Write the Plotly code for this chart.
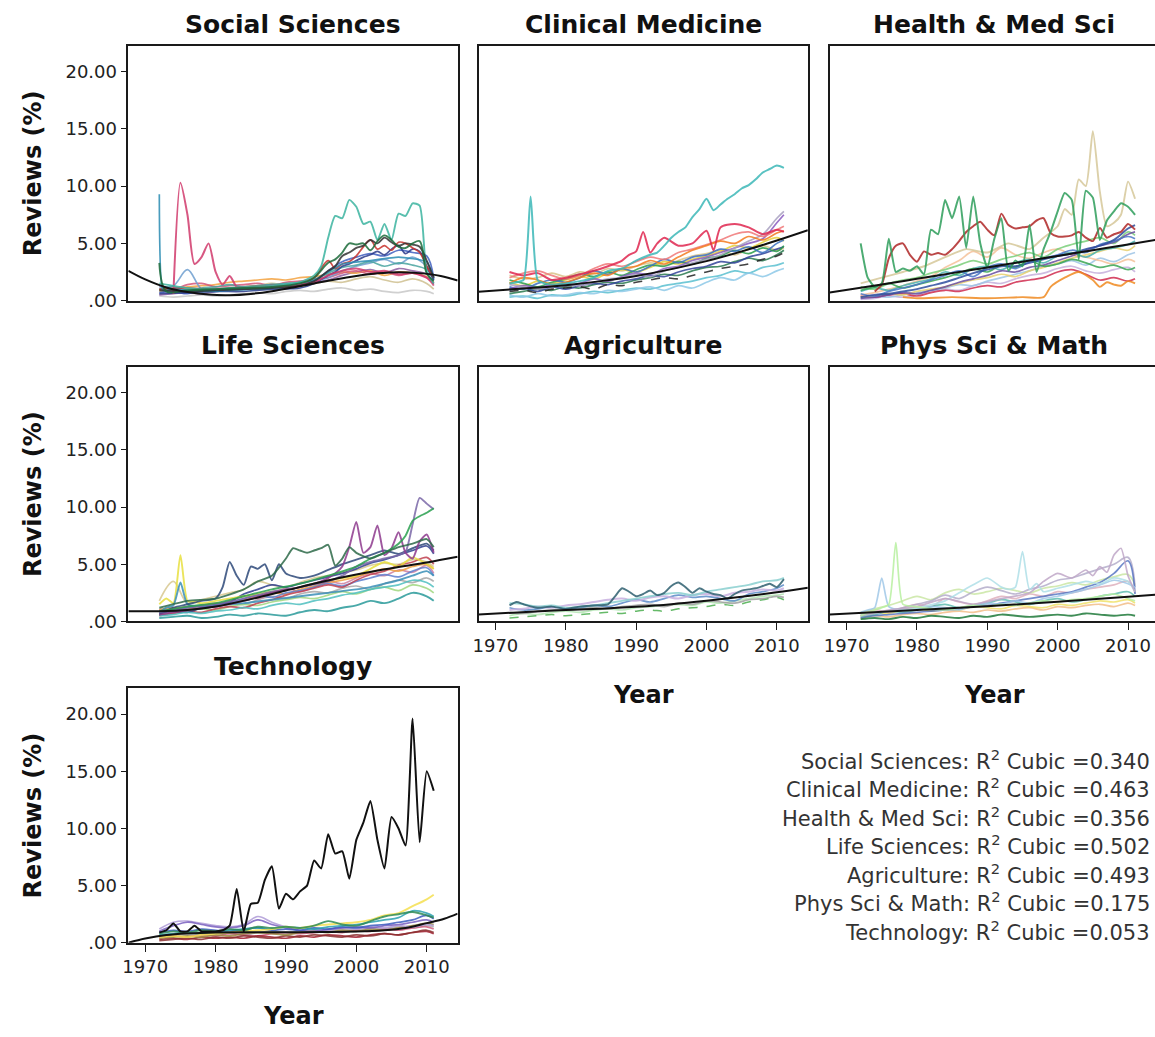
import plotly.graph_objects as go

# ---------------------------------------------------------------- data
YR = [1972, 1974, 1976, 1978, 1980, 1982, 1984, 1986, 1988, 1990, 1992,
      1994, 1996, 1998, 2000, 2002, 2004, 2006, 2008, 2010, 2011]
YEARLY = list(range(1972, 2012))

X_TICKS = [1970, 1980, 1990, 2000, 2010]
X_TICKTEXT = ["1970", "1980", "1990", "2000", "2010"]
Y_TICKS = [0, 5, 10, 15, 20]
Y_TICKTEXT = [".00", "5.00", "10.00", "15.00", "20.00"]

PANEL_NAMES = ["Social Sciences", "Clinical Medicine", "Health & Med Sci",
               "Life Sciences", "Agriculture", "Phys Sci & Math", "Technology"]
R2_CUBIC = ["0.340", "0.463", "0.356", "0.502", "0.493", "0.175", "0.053"]

# --- Social Sciences
ss_bg1 = [0.9, 1.0, 1.2, 1.3, 1.4, 1.6, 1.7, 1.8, 1.9, 1.8, 2.0, 2.1, 2.3, 2.5, 2.4, 2.6, 2.2, 2.5, 2.4, 2.1, 1.6]
ss_bg2 = [1.2, 1.3, 2.7, 1.0, 0.8, 1.0, 1.1, 1.0, 1.2, 1.4, 1.5, 1.7, 2.0, 2.6, 3.0, 3.3, 3.6, 3.2, 3.8, 3.0, 2.2]
ss_bg3 = [0.5, 0.6, 0.7, 0.6, 0.8, 0.9, 1.0, 1.1, 1.2, 1.3, 1.4, 1.6, 1.8, 2.2, 2.5, 2.7, 2.4, 2.8, 2.6, 2.3, 1.4]
ss_bg4 = [0.4, 0.3, 0.4, 0.5, 0.4, 0.5, 0.6, 0.7, 0.6, 0.8, 0.9, 0.8, 1.0, 1.1, 0.9, 1.0, 0.8, 0.7, 0.9, 0.8, 0.6]
ss_bg5 = [1.3, 1.0, 1.4, 1.5, 1.2, 1.3, 1.4, 1.5, 1.3, 1.6, 1.7, 1.9, 2.0, 2.4, 2.6, 2.3, 2.5, 2.2, 2.4, 2.0, 1.3]
ss_bg6 = [0.8, 0.9, 0.7, 0.8, 1.0, 0.9, 1.2, 1.3, 1.5, 1.3, 1.4, 1.5, 1.7, 1.6, 1.9, 2.1, 1.8, 1.6, 1.9, 1.5, 1.0]
ss_bg7 = [1.0, 1.2, 0.9, 1.1, 1.2, 1.4, 1.2, 1.3, 1.4, 1.5, 1.6, 1.8, 2.4, 2.9, 3.1, 3.4, 3.0, 3.3, 3.1, 2.7, 1.8]
ss_bg8 = [0.7, 0.8, 0.6, 0.9, 0.8, 1.0, 1.1, 1.2, 1.4, 1.3, 1.5, 1.7, 2.6, 3.4, 3.8, 4.1, 3.9, 4.4, 4.2, 3.9, 1.9]
ss_steel_years = [1972, 1972.5, 1974, 1978, 1982, 1986, 1990, 1994, 1998, 2002, 2006, 2010, 2011]
ss_steel = [9.3, 0.9, 1.0, 0.8, 0.9, 1.0, 1.2, 1.8, 3.2, 3.5, 3.8, 3.4, 2.0]
ss_late_years = [1972, 1976, 1980, 1984, 1988, 1992, 1994, 1996, 1997, 1998, 1999, 2000,
                 2001, 2002, 2003, 2004, 2005, 2006, 2007, 2008, 2009, 2010, 2011]
ss_black = [0.9, 0.8, 0.9, 1.0, 1.1, 1.3, 1.7, 2.6, 3.0, 3.9, 4.2, 4.6, 4.8, 5.3, 5.0, 5.5, 5.1, 4.8, 5.0, 4.9, 4.7, 3.5, 2.0]
ss_red = [1.0, 1.1, 1.0, 1.2, 1.3, 1.4, 2.0, 3.5, 2.8, 3.2, 3.4, 3.9, 4.7, 5.3, 4.5, 4.8, 4.4, 5.1, 5.0, 4.6, 4.2, 3.0, 2.0]
ss_navy = [0.6, 0.7, 0.8, 0.8, 1.0, 1.1, 1.5, 2.2, 2.5, 3.0, 3.2, 3.5, 3.8, 4.0, 4.3, 4.0, 4.5, 4.8, 4.1, 4.5, 4.3, 3.0, 1.8]
ss_dkgreen_years = [1972, 1973, 1976, 1980, 1984, 1988, 1992, 1994, 1996, 1997, 1998, 1999,
                    2000, 2001, 2002, 2003, 2004, 2005, 2006, 2007, 2008, 2009, 2010, 2011]
ss_dkgreen = [3.3, 0.8, 0.9, 1.0, 1.1, 1.2, 1.5, 2.0, 3.3, 3.6, 4.2, 5.0, 4.9, 5.0, 4.4, 5.2, 5.7, 5.3, 4.7, 4.6, 5.0, 5.2, 2.4, 1.7]
ss_crimson_years = [1974, 1975, 1976, 1977, 1978, 1979, 1980, 1981, 1982, 1983, 1984, 1986, 1988,
                    1990, 1992, 1994, 1996, 1998, 2000, 2002, 2004, 2006, 2008, 2010, 2011]
ss_crimson = [0.6, 10.3, 7.5, 3.2, 3.8, 5.0, 2.5, 1.4, 2.15, 1.2, 1.2, 1.1, 1.3, 1.2, 1.4, 1.6, 2.2, 2.6, 2.8, 2.5, 2.6, 2.3, 2.4, 2.0, 1.5]
ss_seagreen_years = [1972, 1976, 1980, 1984, 1988, 1992, 1994, 1995, 1996, 1997, 1998, 1999,
                     2000, 2001, 2002, 2003, 2004, 2005, 2006, 2007, 2008, 2009, 2010, 2011]
ss_seagreen = [1.5, 1.1, 1.0, 1.2, 1.3, 1.6, 2.2, 3.0, 5.5, 7.4, 7.2, 8.8, 8.2, 6.7, 6.9, 5.3, 6.7, 5.3, 7.6, 7.4, 8.5, 8.3, 2.5, 1.5]
ss_fit_years = [1967.6, 1970, 1973, 1976, 1979, 1982, 1985, 1988, 1991, 1994, 1997, 2000, 2003, 2006, 2009, 2012, 2014.4]
ss_fit = [2.6, 1.85, 1.15, 0.75, 0.52, 0.47, 0.58, 0.82, 1.15, 1.5, 1.85, 2.15, 2.38, 2.48, 2.4, 2.15, 1.75]

# --- Clinical Medicine
cm_orange = [1.5, 2.0, 1.8, 1.4, 1.6, 2.0, 2.4, 2.2, 2.8, 3.0, 3.5, 3.2, 3.8, 4.4, 4.8, 5.2, 5.0, 5.6, 5.3, 5.9, 6.1]
cm_blue = [1.2, 1.0, 1.5, 1.8, 1.6, 2.0, 2.6, 2.3, 2.8, 2.5, 3.0, 3.6, 3.3, 3.8, 4.0, 4.5, 4.3, 4.7, 4.2, 5.0, 5.3]
cm_green = [1.8, 1.5, 1.2, 1.6, 1.9, 2.3, 2.1, 2.5, 2.2, 2.7, 3.1, 3.0, 3.4, 3.2, 3.7, 3.9, 4.4, 4.1, 4.6, 4.3, 4.8]
cm_purple = [1.0, 1.3, 1.1, 1.4, 1.3, 1.5, 1.9, 1.7, 2.1, 2.4, 2.3, 2.8, 3.0, 3.5, 3.8, 4.2, 4.6, 5.0, 5.4, 6.8, 7.5]
cm_lightblue = [0.5, 0.3, 0.6, 0.4, 0.5, 0.7, 0.6, 0.9, 0.8, 1.0, 1.2, 0.9, 1.3, 1.1, 1.6, 2.0, 1.8, 2.4, 2.1, 2.6, 2.8]
cm_black = [0.8, 0.9, 0.7, 1.0, 1.1, 1.2, 1.0, 1.4, 1.3, 1.6, 1.8, 2.0, 1.9, 2.2, 2.5, 2.8, 3.0, 3.2, 3.6, 3.9, 4.2]
cm_khaki = [2.2, 1.9, 2.0, 2.4, 2.1, 2.5, 2.3, 2.8, 2.6, 3.0, 3.3, 3.1, 3.5, 3.9, 4.1, 4.4, 4.0, 4.5, 4.8, 4.4, 4.6]
cm_teal2 = [0.3, 0.4, 0.2, 0.5, 0.4, 0.6, 0.8, 0.7, 0.9, 1.1, 1.0, 1.3, 1.5, 1.7, 2.0, 2.2, 2.6, 2.4, 2.9, 3.1, 3.3]
cm_pink = [2.0, 2.4, 2.6, 2.2, 1.9, 2.2, 2.8, 3.2, 3.0, 3.4, 3.8, 3.6, 4.2, 4.5, 4.9, 5.3, 5.8, 6.0, 5.6, 6.2, 6.5]
cm_grey = [1.4, 1.2, 1.0, 1.2, 1.5, 1.3, 1.6, 1.9, 2.0, 2.3, 2.1, 2.6, 2.9, 3.3, 3.6, 4.0, 4.6, 5.2, 5.8, 7.2, 7.8]
cm_navy = [0.9, 1.1, 0.8, 1.2, 1.0, 1.3, 1.5, 1.4, 1.7, 1.9, 2.2, 2.1, 2.5, 2.8, 3.0, 3.4, 3.3, 3.8, 4.1, 4.5, 4.7]
cm_yellow = [1.6, 1.3, 1.7, 1.5, 1.8, 2.1, 1.9, 2.4, 2.7, 2.5, 2.9, 3.4, 3.2, 3.6, 3.9, 4.3, 4.8, 4.6, 5.1, 5.5, 5.2]
cm_dkgreen = [0.6, 0.8, 1.0, 0.9, 1.2, 1.1, 1.4, 1.6, 1.5, 1.8, 2.0, 2.3, 2.2, 2.6, 2.9, 3.0, 3.4, 3.7, 3.5, 4.0, 4.4]
cm_red_years = [1972, 1974, 1976, 1978, 1980, 1982, 1984, 1986, 1988, 1989, 1990, 1991, 1992,
                1993, 1994, 1996, 1998, 2000, 2001, 2002, 2004, 2006, 2008, 2010, 2011]
cm_red = [2.5, 2.2, 2.4, 1.8, 2.0, 2.3, 2.6, 3.0, 3.5, 4.0, 4.3, 6.0, 4.2, 5.0, 5.5, 4.8, 5.0, 6.1, 4.4, 6.4, 6.7, 6.4, 5.8, 6.2, 6.0]
cm_teal_years = [1972, 1973, 1974, 1975, 1976, 1977, 1978, 1980, 1982, 1984, 1986, 1988, 1990,
                 1992, 1993, 1994, 1995, 1996, 1997, 1998, 1999, 2000, 2001, 2002, 2003, 2004,
                 2005, 2006, 2007, 2008, 2009, 2010, 2011]
cm_teal = [1.5, 1.6, 1.8, 9.1, 1.8, 1.5, 1.4, 1.5, 1.7, 2.0, 2.6, 2.8, 3.5, 4.0, 4.2, 4.8, 5.5, 6.0,
           6.4, 7.3, 8.0, 8.9, 7.9, 8.4, 8.9, 9.3, 9.8, 10.1, 10.6, 11.2, 11.5, 11.8, 11.6]
cm_fit_years = [1967.6, 1975, 1980, 1985, 1990, 1995, 2000, 2005, 2010, 2014.4]
cm_fit = [0.78, 1.1, 1.35, 1.7, 2.15, 2.75, 3.45, 4.3, 5.25, 6.15]

# --- Health & Med Sci
hm_navy = [0.3, 0.5, 0.6, 0.8, 1.0, 1.3, 1.6, 2.0, 2.4, 2.7, 3.0, 3.0, 3.3, 3.6, 3.9, 4.1, 4.5, 4.8, 5.3, 6.3, 6.6]
hm_blue = [0.6, 0.4, 0.8, 1.1, 1.4, 1.8, 2.2, 2.6, 2.1, 2.9, 3.2, 2.8, 3.4, 3.7, 4.0, 4.4, 4.2, 4.9, 5.2, 5.6, 5.4]
hm_lightgreen = [1.2, 1.0, 1.5, 1.8, 2.0, 2.4, 2.7, 3.1, 3.5, 3.2, 3.6, 3.9, 4.2, 3.8, 4.5, 4.9, 5.2, 5.5, 5.0, 6.0, 5.7]
hm_teal = [0.8, 1.1, 0.9, 1.3, 1.6, 1.9, 2.5, 2.2, 2.8, 3.0, 2.7, 3.3, 3.6, 3.3, 3.9, 4.2, 3.8, 4.4, 4.6, 4.9, 5.2]
hm_peach = [0.5, 0.7, 1.0, 1.3, 1.7, 2.1, 2.9, 3.5, 4.3, 3.8, 4.6, 4.0, 3.7, 4.2, 4.5, 4.0, 3.8, 3.5, 3.2, 3.6, 3.4]
hm_lightblue = [0.2, 0.4, 0.3, 0.5, 0.7, 0.9, 1.1, 1.4, 1.3, 1.7, 2.0, 2.3, 2.6, 3.0, 3.2, 3.5, 3.1, 3.7, 3.4, 4.0, 4.2]
hm_lavender = [0.1, 0.2, 0.4, 0.3, 0.5, 0.8, 1.0, 0.9, 1.3, 1.6, 1.5, 1.9, 2.2, 2.4, 2.8, 3.0, 2.6, 2.4, 2.7, 2.9, 2.5]
hm_crimson = [0.4, 0.3, 0.5, 0.6, 0.4, 0.7, 0.9, 0.8, 1.1, 1.3, 1.2, 1.6, 1.8, 2.0, 2.5, 2.7, 2.3, 1.8, 2.0, 1.7, 1.9]
hm_green2 = [0.9, 1.2, 1.5, 1.1, 1.4, 1.7, 2.0, 2.4, 2.8, 2.5, 3.1, 2.9, 3.5, 3.0, 3.2, 3.6, 3.3, 2.9, 3.1, 2.7, 2.9]
hm_yellow = [0.3, 0.4, 0.6, 0.5, 0.8, 1.0, 1.2, 1.5, 1.8, 2.0, 2.3, 2.1, 2.6, 2.9, 3.3, 3.7, 4.0, 4.3, 4.6, 4.4, 4.8]
hm_purple = [0.2, 0.3, 0.5, 0.7, 0.6, 0.9, 1.2, 1.6, 1.9, 2.2, 2.6, 2.5, 2.9, 3.1, 3.5, 3.9, 4.4, 4.8, 5.1, 5.8, 6.0]
hm_orange_years = [1978, 1980, 1985, 1990, 1995, 1998, 1999, 2001, 2003, 2005, 2006, 2007, 2008, 2009, 2010, 2011]
hm_orange = [0.3, 0.2, 0.3, 0.2, 0.3, 0.3, 1.2, 2.0, 2.5, 1.8, 1.2, 1.6, 1.4, 1.3, 1.7, 1.5]
hm_khaki_years = [1972, 1975, 1978, 1981, 1984, 1987, 1990, 1993, 1996, 1998, 2000, 2001, 2002,
                  2003, 2004, 2005, 2006, 2007, 2008, 2009, 2010, 2011]
hm_khaki = [1.5, 2.0, 2.5, 3.0, 3.8, 4.5, 4.2, 5.0, 4.5, 5.5, 6.5, 8.0, 7.5, 10.6, 10.0, 14.8, 9.5, 6.5, 6.8, 7.5, 10.4, 8.9]
hm_red_years = list(range(1974, 2012))
hm_red = [0.8, 1.4, 3.7, 4.8, 5.0, 4.0, 3.4, 4.3, 4.0, 4.15,
          4.0, 4.5, 5.2, 6.0, 6.5, 6.9, 6.2, 5.7, 7.6, 6.6,
          6.3, 6.4, 6.5, 7.0, 7.2, 5.9, 5.6, 5.6, 5.7, 6.0,
          5.5, 5.2, 6.35, 5.5, 5.8, 6.0, 6.7, 6.2]
hm_green = [5.0, 2.0, 1.2, 1.5, 5.4, 2.5, 2.8, 2.6, 3.0, 2.3,
            6.2, 5.8, 8.8, 7.2, 9.1, 4.6, 9.1, 5.0, 2.9, 5.4,
            7.2, 2.6, 3.5, 3.0, 6.6, 2.5, 4.5, 6.0, 7.8, 9.4,
            8.8, 3.6, 9.6, 9.0, 5.3, 7.0, 7.8, 8.5, 8.2, 7.5]
hm_fit_years = [1967.6, 1975, 1980, 1985, 1990, 1995, 2000, 2005, 2010, 2014.4]
hm_fit = [0.7, 1.4, 1.9, 2.4, 2.9, 3.4, 3.9, 4.4, 4.9, 5.35]

# --- Life Sciences
ls_teal2 = [0.3, 0.4, 0.5, 0.3, 0.4, 0.6, 0.5, 0.7, 0.6, 0.5, 0.8, 1.0, 0.9, 1.2, 1.4, 1.8, 1.6, 2.0, 2.5, 2.2, 1.8]
ls_cyan = [0.5, 0.6, 0.8, 0.7, 0.9, 1.0, 1.2, 1.1, 1.4, 1.6, 1.5, 1.8, 2.0, 2.3, 2.5, 2.8, 3.0, 3.2, 3.6, 3.4, 3.0]
ls_orange = [1.0, 1.2, 1.1, 1.4, 1.6, 1.5, 1.9, 2.2, 2.5, 2.4, 2.8, 3.1, 3.4, 3.6, 3.9, 4.3, 4.6, 4.4, 4.8, 5.0, 4.6]
ls_khaki = [1.8, 3.5, 1.6, 1.9, 2.2, 2.5, 2.8, 3.5, 3.2, 3.0, 3.4, 3.8, 4.0, 4.3, 4.5, 4.9, 5.1, 5.0, 5.4, 5.2, 4.8]
ls_pink = [1.0, 1.1, 1.3, 1.2, 1.5, 1.8, 2.2, 2.0, 2.4, 2.9, 2.6, 3.0, 3.5, 3.3, 3.8, 4.2, 4.0, 4.5, 4.3, 4.9, 4.2]
ls_lightgreen = [0.6, 0.8, 0.9, 1.1, 1.0, 1.3, 1.5, 1.4, 1.7, 1.9, 2.1, 2.0, 2.3, 2.6, 2.4, 2.8, 3.0, 2.7, 3.2, 2.9, 2.5]
ls_blue = [0.9, 1.0, 1.2, 1.4, 1.3, 1.6, 2.0, 2.3, 2.1, 2.5, 2.7, 3.0, 3.3, 3.1, 3.5, 3.8, 4.1, 3.9, 4.4, 4.7, 4.0]
ls_grey = [1.1, 1.0, 1.2, 1.1, 1.4, 1.6, 1.5, 1.9, 2.2, 2.0, 2.4, 2.6, 2.5, 2.9, 3.1, 2.8, 3.3, 3.6, 3.4, 3.8, 3.5]
ls_red = [0.5, 0.7, 0.9, 0.8, 1.1, 1.3, 1.2, 1.6, 1.9, 2.3, 2.6, 2.9, 3.2, 3.0, 3.6, 4.1, 4.4, 4.9, 5.2, 5.6, 5.0]
ls_navy = [0.7, 0.9, 0.8, 1.2, 1.5, 1.7, 2.4, 2.8, 3.2, 3.0, 3.3, 3.6, 3.9, 4.2, 4.6, 5.1, 5.4, 5.8, 6.2, 6.6, 5.9]
ls_purple_years = [1972, 1976, 1980, 1984, 1988, 1992, 1996, 1998, 2000, 2002, 2004, 2006, 2007, 2008, 2009, 2010, 2011]
ls_purple = [0.8, 1.2, 1.5, 2.0, 2.6, 3.0, 3.5, 4.0, 4.8, 5.2, 5.5, 5.8, 6.1, 8.5, 10.8, 10.3, 9.8]
ls_magenta_years = [1972, 1976, 1980, 1984, 1988, 1992, 1995, 1997, 1998, 1999, 2000, 2001,
                    2002, 2003, 2004, 2005, 2006, 2007, 2008, 2009, 2010, 2011]
ls_magenta = [0.6, 1.0, 1.3, 1.8, 2.5, 3.0, 3.5, 4.2, 4.8, 6.5, 8.7, 6.0, 6.5, 8.4, 5.8, 6.4, 7.8, 6.0, 5.5, 7.0, 7.6, 6.0]
ls_dkgreen_years = [1972, 1976, 1980, 1984, 1986, 1988, 1989, 1990, 1991, 1992, 1993, 1994,
                    1995, 1996, 1997, 1998, 1999, 2000, 2002, 2004, 2006, 2008, 2010, 2011]
ls_dkgreen = [1.2, 1.8, 2.0, 2.8, 3.5, 4.0, 4.7, 5.5, 6.4, 6.2, 6.0, 6.2, 6.4, 6.7, 4.9, 5.5, 6.5, 6.0, 5.5, 6.0, 6.5, 6.8, 7.2, 6.5]
ls_green_years = [1972, 1976, 1980, 1984, 1988, 1992, 1996, 2000, 2002, 2004, 2006, 2007, 2008, 2009, 2010, 2011]
ls_green = [0.9, 1.3, 1.6, 2.2, 2.8, 3.3, 4.0, 4.8, 5.5, 6.0, 6.8, 7.5, 8.8, 9.2, 9.5, 9.9]
ls_slate_years = [1972, 1974, 1976, 1978, 1980, 1981, 1982, 1983, 1984, 1985, 1986, 1987, 1988,
                  1989, 1990, 1992, 1994, 1996, 1998, 2000, 2002, 2004, 2006, 2008, 2010, 2011]
ls_slate = [0.6, 1.2, 1.5, 1.8, 2.0, 3.0, 5.2, 4.0, 3.2, 4.8, 4.6, 5.0, 3.6, 5.0, 4.2, 3.8, 4.0, 4.5, 5.0, 5.4, 5.8, 6.2, 5.9, 6.4, 6.8, 6.2]
ls_yellow_years = [1972, 1973, 1974, 1975, 1976, 1977, 1978, 1980, 1984, 1988, 1992, 1996, 2000, 2002, 2004, 2006, 2008, 2010, 2011]
ls_yellow = [1.5, 2.0, 1.6, 5.8, 1.8, 1.7, 1.6, 1.8, 2.2, 2.6, 3.0, 3.6, 4.0, 4.6, 5.2, 4.8, 5.6, 5.0, 4.6]
ls_teal_years = [1972, 1973, 1974, 1975, 1976, 1978, 1980, 1984, 1988, 1992, 1996, 2000, 2002, 2004, 2006, 2008, 2010, 2011]
ls_teal = [0.8, 1.2, 1.4, 3.4, 1.5, 1.3, 1.4, 1.6, 1.9, 2.2, 2.5, 2.8, 3.0, 3.3, 3.6, 4.0, 4.4, 4.0]
ls_fit_years = [1967.6, 1972, 1976, 1980, 1985, 1990, 1995, 2000, 2005, 2010, 2014.4]
ls_fit = [0.9, 0.9, 1.0, 1.3, 1.95, 2.7, 3.45, 4.1, 4.65, 5.15, 5.65]

# --- Agriculture
ag_lightteal = [1.6, 1.5, 1.3, 1.4, 1.2, 1.3, 1.4, 1.6, 1.8, 2.0, 2.2, 2.4, 2.5, 2.3, 2.6, 2.8, 3.0, 3.2, 3.5, 3.6, 3.8]
ag_lavender = [1.0, 1.1, 1.3, 1.2, 1.4, 1.5, 1.7, 1.9, 2.0, 1.8, 2.1, 2.2, 2.0, 2.3, 2.4, 2.2, 2.5, 2.6, 2.8, 2.7, 2.9]
ag_green = [0.3, 0.4, 0.5, 0.6, 0.5, 0.6, 0.7, 0.8, 0.7, 0.9, 1.0, 0.9, 1.1, 1.2, 1.3, 1.5, 1.4, 1.7, 1.9, 2.1, 1.9]
ag_lightgreen = [0.5, 0.7, 0.6, 0.8, 0.9, 0.8, 1.0, 1.1, 1.0, 1.2, 1.3, 1.4, 1.5, 1.4, 1.7, 1.6, 1.8, 2.0, 2.2, 2.3, 2.4]
ag_blue = [1.2, 1.0, 1.1, 1.3, 1.1, 1.2, 1.4, 1.3, 1.6, 1.9, 1.7, 2.0, 2.3, 2.1, 2.2, 2.0, 1.8, 2.4, 2.6, 2.9, 3.2]
ag_grey = [0.8, 0.7, 0.9, 1.0, 1.0, 1.1, 1.2, 1.1, 1.3, 1.4, 1.5, 1.3, 1.6, 1.5, 1.8, 1.7, 1.6, 1.9, 2.0, 2.2, 2.1]
ag_slate_years = [1972, 1973, 1974, 1976, 1978, 1980, 1982, 1984, 1986, 1987, 1988, 1989, 1990,
                  1991, 1992, 1993, 1994, 1995, 1996, 1997, 1998, 1999, 2000, 2001, 2002, 2003,
                  2004, 2005, 2006, 2007, 2008, 2009, 2010, 2011]
ag_slate = [1.4, 1.7, 1.5, 1.2, 1.3, 1.1, 1.3, 1.4, 1.5, 2.2, 2.9, 2.6, 2.2, 2.4, 2.7, 2.3, 2.5,
            3.1, 3.4, 3.0, 2.5, 2.9, 2.6, 2.4, 2.3, 2.0, 2.4, 2.7, 2.8, 2.9, 3.1, 3.3, 3.0, 3.7]
ag_fit_years = [1967.6, 1975, 1980, 1985, 1990, 1995, 2000, 2005, 2010, 2014.4]
ag_fit = [0.6, 0.85, 1.0, 1.12, 1.28, 1.5, 1.8, 2.15, 2.55, 2.95]

# --- Phys Sci & Math
ps_blue = [0.3, 0.5, 0.6, 0.7, 0.8, 0.9, 1.0, 1.1, 1.3, 1.4, 1.6, 1.8, 2.0, 2.2, 2.4, 2.6, 3.0, 3.4, 4.2, 5.3, 2.4]
ps_pink = [0.5, 1.0, 0.8, 1.2, 1.5, 1.3, 2.0, 1.7, 1.5, 1.8, 2.2, 2.0, 2.4, 2.2, 2.6, 2.5, 2.8, 3.0, 3.2, 3.5, 2.5]
ps_green = [0.2, 0.3, 0.2, 0.4, 0.3, 0.5, 0.4, 0.3, 0.5, 0.4, 0.6, 0.5, 0.4, 0.5, 0.6, 0.5, 0.7, 0.6, 0.5, 0.6, 0.5]
ps_yellow = [0.6, 0.8, 0.7, 1.0, 1.2, 0.9, 1.1, 1.0, 1.3, 1.2, 1.1, 1.4, 1.3, 1.2, 1.5, 1.4, 1.6, 1.8, 1.7, 1.9, 1.6]
ps_teal = [0.4, 0.6, 0.9, 0.8, 1.0, 1.3, 1.5, 1.2, 1.4, 1.6, 1.9, 1.7, 1.5, 1.8, 2.0, 1.7, 1.9, 2.2, 2.4, 2.6, 2.2]
ps_orange = [0.3, 0.5, 0.4, 0.6, 0.7, 0.6, 0.8, 0.9, 0.8, 1.0, 0.9, 1.1, 1.2, 1.0, 1.3, 1.2, 1.4, 1.5, 1.3, 1.6, 1.4]
ps_lime = [0.7, 1.1, 1.4, 1.8, 2.2, 1.9, 2.5, 2.8, 2.4, 2.6, 2.9, 2.7, 2.5, 2.9, 3.1, 3.4, 3.2, 3.6, 3.9, 4.1, 3.2]
ps_grey = [0.5, 0.7, 0.9, 1.2, 1.5, 1.8, 2.3, 2.0, 2.6, 3.0, 2.7, 2.4, 2.8, 3.1, 3.6, 3.8, 4.2, 4.6, 5.0, 5.6, 3.0]
ps_lightgreen_years = [1972, 1974, 1975, 1976, 1977, 1978, 1980, 1982, 1984, 1986, 1988, 1990,
                       1992, 1994, 1996, 1998, 2000, 2002, 2004, 2006, 2008, 2010, 2011]
ps_lightgreen = [0.5, 1.0, 1.2, 1.5, 6.9, 1.5, 1.3, 1.1, 1.0, 1.2, 1.4, 1.3, 1.5, 1.4, 1.6, 1.8, 1.7, 1.9, 2.0, 2.2, 2.4, 2.0, 1.8]
ps_lightblue_years = [1972, 1973, 1974, 1975, 1976, 1978, 1980, 1982, 1984, 1986, 1988, 1990,
                      1992, 1994, 1996, 1998, 2000, 2002, 2004, 2006, 2008, 2010, 2011]
ps_lightblue = [0.8, 1.0, 1.2, 3.8, 1.3, 1.0, 1.1, 1.3, 1.2, 1.0, 1.4, 1.6, 1.5, 1.8, 1.6, 2.0, 2.2, 2.5, 2.8, 3.2, 3.6, 3.3, 3.0]
ps_cyan_years = [1972, 1976, 1980, 1984, 1986, 1988, 1990, 1992, 1993, 1994, 1995, 1996, 1997,
                 1998, 2000, 2002, 2004, 2006, 2008, 2010, 2011]
ps_cyan = [0.6, 0.9, 1.2, 1.8, 2.5, 3.2, 3.8, 3.0, 2.8, 3.0, 6.1, 2.8, 3.3, 2.6, 2.9, 3.2, 3.5, 3.3, 3.8, 3.5, 2.6]
ps_lavender_years = [1972, 1976, 1980, 1984, 1988, 1992, 1996, 1998, 2000, 2002, 2004, 2005,
                     2006, 2007, 2008, 2009, 2010, 2011]
ps_lavender = [0.5, 1.0, 1.3, 2.0, 1.5, 2.0, 2.5, 3.5, 4.2, 3.8, 4.5, 4.0, 4.8, 4.3, 5.8, 6.4, 4.0, 2.6]
ps_fit_years = [1967.6, 1980, 1990, 2000, 2010, 2014.4]
ps_fit = [0.6, 1.0, 1.33, 1.72, 2.15, 2.36]

# --- Technology
tc_green = [0.8, 1.0, 0.9, 1.1, 1.0, 1.2, 1.1, 1.4, 1.3, 1.4, 1.3, 1.5, 1.9, 1.6, 1.5, 1.9, 2.3, 2.5, 2.7, 2.4, 2.2]
tc_yellow = [0.5, 0.6, 0.5, 0.7, 0.8, 0.9, 1.0, 1.1, 1.2, 1.4, 1.3, 1.5, 1.6, 1.7, 1.8, 2.0, 2.4, 2.6, 3.2, 3.8, 4.2]
tc_teal = [0.7, 0.8, 0.9, 0.8, 1.0, 1.1, 1.2, 1.3, 1.2, 1.4, 1.3, 1.2, 1.4, 1.5, 1.6, 1.8, 2.0, 2.2, 2.8, 2.6, 2.3]
tc_purple = [1.0, 1.5, 1.8, 1.6, 1.4, 1.3, 1.5, 2.0, 1.6, 1.3, 1.1, 1.0, 1.2, 1.3, 1.4, 1.3, 1.5, 1.6, 1.8, 2.0, 1.8]
tc_lavender = [1.2, 1.8, 1.9, 1.7, 1.5, 1.4, 1.6, 2.3, 1.8, 1.4, 1.3, 1.2, 1.1, 1.3, 1.2, 1.4, 1.3, 1.5, 1.4, 1.6, 1.5]
tc_darkred = [0.3, 0.4, 0.3, 0.5, 0.4, 0.5, 0.4, 0.6, 0.5, 0.4, 0.6, 0.5, 0.7, 0.6, 0.5, 0.7, 0.8, 0.7, 0.9, 1.0, 0.8]
tc_pink = [0.5, 0.6, 0.5, 0.7, 0.6, 0.8, 0.7, 0.6, 0.8, 0.9, 0.8, 0.9, 1.0, 0.9, 1.1, 1.0, 1.2, 1.1, 1.3, 1.4, 1.2]
tc_grey = [0.6, 0.7, 0.8, 0.7, 0.9, 0.8, 0.7, 0.9, 1.0, 0.9, 1.0, 1.1, 1.0, 1.2, 1.1, 1.3, 1.2, 1.4, 1.3, 1.5, 1.4]
tc_blue = [0.9, 1.1, 1.0, 1.2, 1.1, 1.0, 1.2, 1.3, 1.1, 1.2, 1.1, 1.3, 1.2, 1.4, 1.3, 1.5, 1.6, 1.8, 2.0, 2.4, 2.1]
tc_brown = [0.2, 0.3, 0.4, 0.3, 0.5, 0.4, 0.6, 0.5, 0.4, 0.6, 0.5, 0.7, 0.6, 0.5, 0.7, 0.6, 0.8, 0.7, 0.9, 1.1, 0.9]
tc_olive = [0.4, 0.5, 0.6, 0.5, 0.7, 0.6, 0.8, 0.9, 0.8, 0.7, 0.9, 1.0, 0.9, 1.1, 1.0, 1.2, 1.1, 1.3, 1.5, 1.7, 1.6]
tc_main = [0.9, 1.1, 1.7, 1.0, 1.0, 1.5, 1.0, 1.0, 1.0, 1.1,
           1.5, 4.7, 1.0, 3.4, 3.5, 5.5, 6.7, 3.0, 4.3, 3.8,
           4.5, 5.0, 7.2, 6.5, 9.5, 7.8, 8.0, 5.6, 9.0, 10.5,
           12.4, 9.0, 6.5, 11.0, 10.0, 8.5, 19.6, 8.8, 15.0, 13.3]
tc_fit_years = [1967.6, 1970, 1973, 1976, 1980, 1985, 1990, 1995, 2000, 2004, 2007, 2010, 2012.5, 2014.4]
tc_fit = [0.0, 0.37, 0.68, 0.82, 0.9, 0.92, 0.92, 0.94, 0.98, 1.1, 1.3, 1.72, 2.1, 2.55]

# ---------------------------------------------------------------- styling / layout
W, H = 1155, 1037
COL_LEFT = [123, 475, 828]
ROW_TOP = [46.5, 370.5, 695]
PW, PH = 331, 257
X0, XSPAN = 1967.6, 46.8
YMAX = 22.25
FONT = "DejaVu Sans"
AX = "#1a1a1a"


def L(x, y, color, width=1.7, dash="solid", op=0.85, sm=1.0):
    return dict(x=x, y=y, color=color, width=width, dash=dash, op=op, sm=sm)


panels = [
    dict(row=0, col=0, xt=False, yt=True, fit=(ss_fit_years, ss_fit), lines=[
        L(YR, ss_bg4, "#c8c8c8"), L(YR, ss_bg6, "#cfc090"), L(YR, ss_bg3, "#8e5ea2"),
        L(YR, ss_bg1, "#f4a340"), L(YR, ss_bg5, "#d4567a"), L(YR, ss_bg2, "#6f9fd0"),
        L(YR, ss_bg8, "#4060c0"), L(YR, ss_bg7, "#4aa5a0"), L(ss_late_years, ss_navy, "#2c3c8c"),
        L(ss_late_years, ss_red, "#c8322d"), L(ss_steel_years, ss_steel, "#2a8cb3", sm=0.4),
        L(ss_crimson_years, ss_crimson, "#d23c6e", 2.0, sm=0.7),
        L(ss_seagreen_years, ss_seagreen, "#3cb4a0", 1.9, sm=0.6),
        L(ss_late_years, ss_black, "#333333", 1.9), L(ss_dkgreen_years, ss_dkgreen, "#1c6b3a", 1.9),
    ]),
    dict(row=0, col=1, xt=False, yt=False, fit=(cm_fit_years, cm_fit), lines=[
        L(YR, cm_teal2, "#5bc0d0"), L(YR, cm_lightblue, "#8ec9e8"), L(YR, cm_khaki, "#d9c38a"),
        L(YR, cm_dkgreen, "#2a7a50"), L(YR, cm_navy, "#33449a"), L(YR, cm_yellow, "#e6cf3a"),
        L(YR, cm_green, "#2a9d4a"), L(YR, cm_blue, "#3a6fc0"), L(YR, cm_purple, "#8b5cc0"),
        L(YR, cm_grey, "#a8a0c0"), L(YR, cm_pink, "#f07878"), L(YR, cm_orange, "#f47b20"),
        L(YR, cm_black, "#222222", 1.6, "dash"),
        L(cm_red_years, cm_red, "#e02850", 2.0, sm=0.7),
        L(cm_teal_years, cm_teal, "#3cb8b8", 2.0, sm=0.6),
    ]),
    dict(row=0, col=2, xt=False, yt=False, fit=(hm_fit_years, hm_fit), lines=[
        L(YR, hm_lavender, "#c6b0dc"), L(YR, hm_lightblue, "#9ec5e6"), L(YR, hm_crimson, "#d03050"),
        L(YR, hm_yellow, "#e8d070"), L(YR, hm_peach, "#f5c29a"), L(YR, hm_teal, "#4bb3b0"),
        L(YR, hm_lightgreen, "#7ccf7a"), L(YR, hm_purple, "#6a4fa0"),
        L(YR, hm_green2, "#3aa655"), L(YR, hm_blue, "#4a78c8"), L(YR, hm_navy, "#2f4f9f", 1.9),
        L(hm_orange_years, hm_orange, "#f08a20", 1.9, sm=0.7),
        L(hm_khaki_years, hm_khaki, "#d6c89a", 1.9, sm=0.6),
        L(hm_red_years, hm_red, "#b02828", 2.0, sm=0.6),
        L(YEARLY, hm_green, "#2e9e5b", 2.0, sm=0.5),
    ]),
    dict(row=1, col=0, xt=False, yt=True, fit=(ls_fit_years, ls_fit), lines=[
        L(YR, ls_grey, "#a8a8a8"), L(YR, ls_lightgreen, "#a0d880"), L(YR, ls_pink, "#d080a0"),
        L(YR, ls_khaki, "#d8c890"), L(YR, ls_orange, "#f0a040"), L(YR, ls_blue, "#6080d0"),
        L(YR, ls_red, "#c04050"), L(YR, ls_navy, "#2f3f8f"),
        L(YR, ls_cyan, "#50c0c0"), L(YR, ls_teal2, "#2a9a9a", 1.9),
        L(ls_yellow_years, ls_yellow, "#e8e040", 1.9, sm=0.6),
        L(ls_teal_years, ls_teal, "#3a90b8", 1.9, sm=0.6),
        L(ls_slate_years, ls_slate, "#2e4a7a", 1.9, sm=0.6),
        L(ls_purple_years, ls_purple, "#7b68a8", 1.9, sm=0.6),
        L(ls_magenta_years, ls_magenta, "#8e3a8e", 1.9, sm=0.6),
        L(ls_green_years, ls_green, "#2aa050", 1.9, sm=0.6),
        L(ls_dkgreen_years, ls_dkgreen, "#2e6b4a", 1.9, sm=0.6),
    ]),
    dict(row=1, col=1, xt=True, yt=False, fit=(ag_fit_years, ag_fit), lines=[
        L(YR, ag_lightgreen, "#b4e6b4"), L(YR, ag_green, "#4caf50", 1.5, "dash"),
        L(YR, ag_grey, "#a0a0a0"), L(YR, ag_blue, "#5b8bc8"), L(YR, ag_lavender, "#c8b0e0", 2.0),
        L(YR, ag_lightteal, "#8ad0d0", 1.9),
        L(ag_slate_years, ag_slate, "#2f6070", 1.9, sm=0.6),
    ]),
    dict(row=1, col=2, xt=True, yt=False, fit=(ps_fit_years, ps_fit), lines=[
        L(YR, ps_orange, "#f0b070", op=0.7), L(YR, ps_yellow, "#f0e060", op=0.8),
        L(YR, ps_pink, "#d8a0b0", op=0.7), L(YR, ps_teal, "#40b0a0", op=0.7),
        L(YR, ps_lime, "#c8e6a0", op=0.8), L(YR, ps_grey, "#b0a8c8", op=0.8),
        L(YR, ps_blue, "#5070c0", op=0.8), L(YR, ps_green, "#1f7a3a", 1.9),
        L(ps_lightblue_years, ps_lightblue, "#a0c8e8", sm=0.6),
        L(ps_cyan_years, ps_cyan, "#b0e0e8", sm=0.6),
        L(ps_lavender_years, ps_lavender, "#c0a8c8", sm=0.6),
        L(ps_lightgreen_years, ps_lightgreen, "#b8f0a0", sm=0.6),
    ]),
    dict(row=2, col=0, xt=True, yt=True, fit=(tc_fit_years, tc_fit), lines=[
        L(YR, tc_grey, "#b0b0b0"), L(YR, tc_pink, "#d06080"), L(YR, tc_darkred, "#a02030"),
        L(YR, tc_brown, "#8b3030"), L(YR, tc_olive, "#9a8a40"),
        L(YR, tc_lavender, "#b09cd8"), L(YR, tc_purple, "#7a60c0"), L(YR, tc_blue, "#3b5bbf"),
        L(YR, tc_teal, "#2aa0b0"), L(YR, tc_yellow, "#f5e050", 1.9), L(YR, tc_green, "#2e8b57", 1.9),
        L(YEARLY, tc_main, "#111111", 2.0, op=1.0, sm=0.5),
    ]),
]

fig = go.Figure()
layout = dict(width=W, height=H, margin=dict(l=0, r=0, t=0, b=0),
              paper_bgcolor="white", plot_bgcolor="white", showlegend=False)
annotations = []

for i, p in enumerate(panels, start=1):
    sfx = "" if i == 1 else str(i)
    left = COL_LEFT[p["col"]]
    right = min(left + PW, W)
    top = ROW_TOP[p["row"]]
    x_end = X0 + XSPAN * (right - left) / PW
    for ln in p["lines"]:
        fig.add_trace(go.Scatter(
            x=ln["x"], y=ln["y"], mode="lines", xaxis="x" + sfx, yaxis="y" + sfx,
            line=dict(color=ln["color"], width=ln["width"], dash=ln["dash"],
                      shape="spline", smoothing=ln["sm"]),
            opacity=ln["op"], hoverinfo="skip"))
    fx, fy = p["fit"]
    fig.add_trace(go.Scatter(x=fx, y=fy, mode="lines", xaxis="x" + sfx, yaxis="y" + sfx,
                             line=dict(color="#111111", width=2, shape="spline", smoothing=1.0),
                             hoverinfo="skip"))
    layout["xaxis" + sfx] = dict(
        domain=[left / W, right / W], range=[X0, x_end], anchor="y" + sfx,
        showline=True, linecolor=AX, linewidth=1.5, mirror=True,
        showgrid=False, zeroline=False, tickmode="array", tickvals=X_TICKS,
        ticktext=X_TICKTEXT, ticks="outside" if p["xt"] else "", ticklen=7,
        tickwidth=1.3, tickcolor=AX, showticklabels=p["xt"],
        tickfont=dict(family=FONT, size=18, color="#222222"))
    layout["yaxis" + sfx] = dict(
        domain=[1 - (top + PH) / H, 1 - top / H], range=[0, YMAX], anchor="x" + sfx,
        showline=True, linecolor=AX, linewidth=1.5, mirror=(p["col"] < 2),
        showgrid=False, zeroline=False, tickmode="array", tickvals=Y_TICKS,
        ticktext=Y_TICKTEXT, ticks="outside" if p["yt"] else "", ticklen=6,
        tickwidth=1.3, tickcolor=AX, showticklabels=p["yt"],
        tickfont=dict(family=FONT, size=18, color="#222222"))
    cx = (left + left + PW) / 2
    annotations.append(dict(text="<b>%s</b>" % PANEL_NAMES[i - 1], x=cx / W, y=1 - (top - 22) / H,
                            xref="paper", yref="paper", showarrow=False, xanchor="center",
                            yanchor="middle", font=dict(family=FONT, size=25, color="#111111")))
    if p["yt"]:
        annotations.append(dict(text="<b>Reviews (%)</b>", x=27 / W, y=1 - (top + PH / 2) / H,
                                xref="paper", yref="paper", showarrow=False, textangle=-90,
                                xanchor="center", yanchor="middle",
                                font=dict(family=FONT, size=24, color="#111111")))
    if p["xt"]:
        annotations.append(dict(text="<b>Year</b>", x=cx / W, y=1 - (top + PH + 74) / H,
                                xref="paper", yref="paper", showarrow=False,
                                xanchor="center", yanchor="middle",
                                font=dict(family=FONT, size=24, color="#111111")))

for k, (name, r2) in enumerate(zip(PANEL_NAMES, R2_CUBIC)):
    annotations.append(dict(text="%s: R<sup>2</sup> Cubic =%s" % (name, r2),
                            x=1152 / W, y=1 - (767 + 28.8 * k) / H, xref="paper", yref="paper",
                            showarrow=False, xanchor="right", yanchor="middle",
                            font=dict(family=FONT, size=21, color="#333333")))

layout["annotations"] = annotations
fig.update_layout(**layout)

PAGE_FIX = (
    "var de=document.documentElement;de.style.margin='0';de.style.padding='0';"
    "de.style.overflow='hidden';document.body.style.margin='0';document.body.style.padding='0';"
    "document.body.style.overflow='hidden';"
    "var gd=document.getElementById('{plot_id}');gd.style.position='fixed';"
    "gd.style.left='0px';gd.style.top='0px';"
)
fig.write_html("out.html", config={"displayModeBar": False}, post_script=PAGE_FIX)
